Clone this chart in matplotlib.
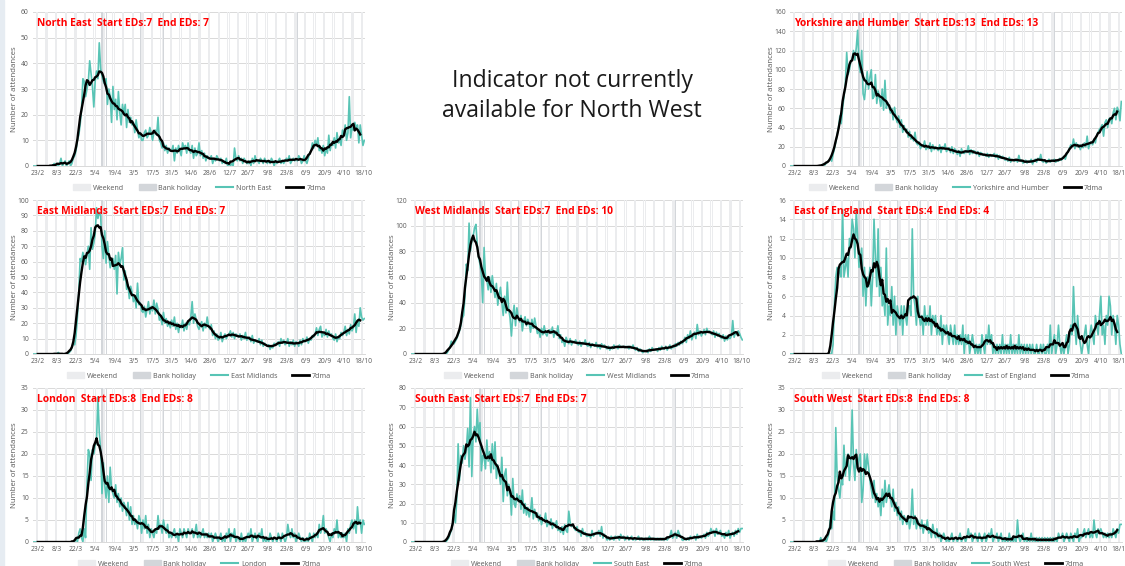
import numpy as np
import pandas as pd
import matplotlib
matplotlib.use('Agg')
import matplotlib.pyplot as plt
from matplotlib.patches import Patch, Rectangle
from matplotlib.lines import Line2D

plt.rcParams['font.family'] = ['Open Sans', 'DejaVu Sans']

# daily attendances, first day 20/2/2020 (3 days, then Sunday-based weeks)
start_date = '2020-02-20'
bank_holidays = ['2020-04-10', '2020-04-13', '2020-05-08', '2020-05-25', '2020-08-31']
tick_start = '2020-02-23'
tick_end = '2020-10-18'

north_east = [
    0, 0, 0,
    0, 0, 0, 0, 0, 0, 0,
    0, 0, 0, 0, 0, 1, 0,
    1, 0, 1, 3, 0, 1, 2,
    0, 1, 2, 0, 1, 3, 4,
    6, 10, 12, 16, 22, 34, 33,
    27, 30, 33, 41, 36, 31, 23,
    33, 37, 34, 48, 38, 35, 33,
    32, 34, 24, 30, 27, 17, 31,
    22, 26, 18, 29, 21, 16, 24,
    20, 24, 15, 22, 17, 19, 16,
    17, 13, 18, 14, 11, 13, 10,
    10, 13, 14, 11, 12, 15, 13,
    10, 13, 14, 12, 19, 10, 9,
    7, 9, 6, 8, 5, 7, 6,
    6, 8, 2, 7, 5, 8, 6,
    4, 9, 7, 8, 5, 9, 6,
    5, 8, 3, 7, 4, 5, 9,
    4, 6, 3, 5, 2, 4, 3,
    3, 4, 1, 3, 2, 4, 3,
    2, 3, 1, 2, 1, 3, 0,
    1, 0, 1, 0, 7, 3, 2,
    4, 2, 3, 1, 3, 2, 1,
    1, 2, 0, 3, 1, 4, 2,
    2, 1, 3, 2, 1, 3, 2,
    1, 2, 1, 3, 2, 0, 2,
    1, 2, 3, 1, 2, 1, 2,
    3, 2, 4, 1, 2, 3, 2,
    3, 2, 4, 3, 1, 2, 4,
    2, 1, 3, 5, 6, 9, 7,
    10, 8, 11, 6, 7, 5, 8,
    4, 7, 5, 12, 6, 9, 8,
    11, 7, 13, 9, 10, 8, 14,
    12, 16, 10, 13, 27, 11, 15,
    14, 17, 15, 16, 9, 16, 12,
    8, 10,
]

yorkshire = [
    0, 0, 0,
    0, 0, 0, 0, 0, 0, 0,
    0, 0, 0, 0, 0, 0, 0,
    0, 0, 0, 0, 0, 0, 1,
    2, 1, 3, 4, 6, 8, 5,
    12, 18, 25, 32, 40, 52, 44,
    60, 72, 85, 118, 95, 100, 108,
    112, 120, 110, 123, 141, 105, 97,
    120, 75, 69, 85, 98, 80, 92,
    100, 70, 72, 95, 65, 78, 70,
    62, 80, 58, 89, 60, 66, 62,
    55, 60, 48, 61, 50, 45, 52,
    40, 48, 35, 42, 36, 38, 30,
    36, 28, 30, 26, 35, 24, 22,
    25, 18, 22, 20, 26, 17, 20,
    18, 24, 15, 22, 17, 20, 19,
    16, 22, 14, 20, 18, 23, 15,
    17, 19, 14, 20, 13, 18, 16,
    12, 16, 10, 18, 14, 13, 15,
    14, 21, 12, 17, 13, 16, 15,
    12, 15, 10, 14, 13, 11, 12,
    10, 13, 9, 12, 10, 11, 13,
    9, 12, 7, 11, 8, 10, 9,
    6, 8, 5, 9, 4, 7, 6,
    5, 7, 4, 11, 5, 6, 3,
    4, 6, 3, 5, 4, 7, 2,
    5, 7, 4, 8, 6, 12, 5,
    4, 6, 3, 5, 7, 4, 6,
    5, 7, 4, 6, 5, 8, 6,
    8, 10, 7, 12, 15, 18, 22,
    20, 28, 18, 24, 20, 22, 17,
    22, 19, 24, 20, 31, 18, 23,
    25, 22, 28, 24, 32, 35, 38,
    40, 43, 31, 45, 48, 40, 49,
    50, 44, 55, 60, 48, 61, 58,
    47, 67,
]

east_midlands = [
    0, 0, 0,
    0, 0, 0, 0, 0, 0, 0,
    0, 0, 0, 0, 0, 0, 0,
    0, 1, 0, 0, 0, 0, 0,
    0, 0, 1, 2, 4, 7, 6,
    12, 24, 40, 62, 60, 66, 63,
    58, 65, 70, 55, 82, 68, 72,
    78, 95, 88, 92, 90, 70, 62,
    80, 59, 73, 64, 56, 60, 62,
    55, 64, 39, 66, 58, 62, 69,
    48, 54, 42, 45, 36, 44, 40,
    34, 38, 30, 46, 32, 33, 28,
    27, 31, 24, 29, 34, 26, 31,
    28, 35, 26, 33, 29, 22, 24,
    19, 27, 20, 23, 18, 21, 17,
    22, 18, 24, 16, 20, 14, 19,
    17, 22, 15, 20, 16, 21, 19,
    24, 34, 20, 26, 22, 18, 16,
    19, 21, 15, 20, 17, 24, 18,
    16, 19, 12, 15, 10, 13, 9,
    10, 14, 8, 11, 13, 10, 12,
    13, 15, 11, 14, 10, 13, 12,
    11, 13, 9, 12, 10, 14, 9,
    10, 11, 8, 12, 7, 9, 8,
    8, 10, 6, 9, 5, 7, 6,
    5, 6, 3, 5, 4, 7, 6,
    6, 8, 5, 10, 7, 9, 6,
    7, 10, 5, 8, 6, 9, 5,
    8, 7, 5, 9, 6, 10, 8,
    8, 11, 7, 10, 9, 12, 11,
    13, 17, 12, 16, 18, 11, 14,
    12, 16, 11, 15, 12, 13, 10,
    9, 13, 8, 11, 10, 14, 12,
    14, 18, 12, 16, 13, 19, 15,
    17, 26, 14, 22, 18, 30, 24,
    22, 23,
]

west_midlands = [
    0, 0, 0,
    0, 0, 0, 0, 0, 0, 0,
    0, 0, 0, 0, 0, 0, 0,
    0, 0, 0, 0, 0, 0, 0,
    0, 0, 1, 3, 5, 10, 8,
    8, 10, 12, 15, 18, 22, 28,
    30, 45, 70, 65, 102, 80, 88,
    92, 98, 101, 85, 75, 70, 62,
    40, 83, 60, 58, 50, 60, 48,
    61, 52, 44, 55, 38, 46, 52,
    40, 30, 45, 32, 56, 35, 28,
    14, 30, 38, 22, 36, 28, 25,
    30, 18, 26, 29, 22, 27, 24,
    17, 27, 20, 28, 22, 16, 19,
    13, 20, 15, 22, 16, 14, 18,
    19, 16, 21, 13, 18, 15, 22,
    12, 15, 9, 11, 6, 13, 10,
    8, 12, 7, 10, 9, 11, 8,
    7, 10, 6, 9, 8, 11, 7,
    6, 9, 5, 8, 7, 6, 9,
    5, 7, 4, 8, 6, 7, 5,
    4, 6, 3, 5, 4, 7, 5,
    6, 4, 7, 5, 6, 5, 6,
    5, 6, 4, 6, 5, 7, 4,
    3, 5, 2, 4, 3, 1, 2,
    2, 3, 1, 4, 2, 5, 3,
    3, 4, 2, 5, 3, 6, 4,
    4, 6, 3, 5, 7, 4, 6,
    5, 8, 6, 9, 7, 10, 8,
    10, 13, 9, 15, 12, 18, 11,
    14, 17, 12, 23, 15, 18, 14,
    16, 19, 15, 20, 17, 18, 16,
    15, 18, 13, 17, 14, 16, 13,
    12, 15, 10, 14, 11, 13, 12,
    14, 26, 13, 17, 15, 18, 16,
    13, 11,
]

east_of_england = [
    0, 0, 0,
    0, 0, 0, 0, 0, 0, 0,
    0, 0, 0, 0, 0, 0, 0,
    0, 0, 0, 0, 0, 0, 0,
    0, 0, 0, 0, 0, 0, 0,
    1, 5, 8, 9, 8, 9, 8,
    15, 8, 9, 10, 8, 12, 11,
    14, 13, 10, 15, 12, 9, 10,
    11, 6, 9, 5, 8, 7, 9,
    5, 8, 14, 10, 7, 13, 6,
    9, 5, 6, 4, 11, 3, 5,
    4, 7, 3, 6, 2, 5, 4,
    3, 5, 2, 5, 4, 3, 5,
    5, 4, 13, 6, 5, 3, 6,
    4, 3, 4, 2, 5, 3, 4,
    3, 5, 2, 4, 3, 4, 2,
    3, 2, 4, 1, 3, 2, 3,
    2, 1, 3, 2, 1, 3, 1,
    2, 1, 2, 1, 3, 0, 2,
    1, 2, 0, 1, 2, 1, 0,
    1, 0, 1, 0, 2, 1, 0,
    2, 1, 3, 1, 2, 0, 1,
    0, 1, 0, 1, 0, 2, 0,
    1, 0, 1, 0, 2, 0, 1,
    0, 1, 0, 2, 0, 1, 0,
    1, 0, 1, 0, 1, 0, 1,
    0, 0, 1, 0, 0, 1, 0,
    1, 0, 0, 1, 0, 3, 0,
    1, 2, 0, 1, 3, 1, 0,
    1, 0, 1, 2, 0, 1, 3,
    2, 7, 3, 1, 4, 2, 1,
    0, 1, 2, 3, 1, 0, 2,
    3, 2, 1, 4, 3, 2, 4,
    6, 2, 3, 1, 4, 3, 6,
    5, 2, 4, 3, 1, 4, 3,
    1, 0,
]

london = [
    0, 0, 0,
    0, 0, 0, 0, 0, 0, 0,
    0, 0, 0, 0, 0, 0, 0,
    0, 0, 0, 0, 0, 0, 0,
    0, 0, 0, 0, 0, 0, 0,
    1, 0, 2, 3, 1, 0, 3,
    1, 13, 21, 20, 14, 21, 20,
    22, 23, 33, 25, 21, 11, 18,
    13, 10, 15, 9, 17, 12, 11,
    10, 13, 9, 11, 8, 10, 7,
    9, 8, 6, 9, 5, 8, 4,
    6, 4, 5, 3, 6, 5, 2,
    5, 3, 6, 2, 4, 1, 3,
    2, 1, 3, 2, 6, 3, 4,
    2, 5, 3, 2, 4, 1, 2,
    1, 2, 3, 1, 2, 0, 3,
    2, 1, 3, 2, 1, 3, 2,
    2, 3, 1, 2, 4, 1, 2,
    1, 2, 3, 1, 2, 1, 2,
    1, 2, 0, 1, 2, 1, 0,
    1, 2, 0, 1, 0, 2, 1,
    3, 0, 2, 1, 3, 0, 1,
    1, 0, 2, 0, 1, 0, 1,
    2, 1, 3, 0, 1, 2, 1,
    0, 2, 1, 3, 0, 1, 0,
    1, 0, 2, 1, 0, 1, 1,
    0, 2, 1, 0, 2, 1, 0,
    1, 4, 2, 1, 3, 1, 2,
    0, 1, 2, 1, 0, 1, 0,
    0, 1, 0, 2, 1, 0, 2,
    1, 2, 1, 4, 2, 3, 6,
    2, 3, 2, 1, 0, 2, 1,
    3, 2, 5, 1, 2, 1, 2,
    1, 2, 0, 3, 2, 4, 5,
    3, 5, 2, 8, 4, 5, 2,
    5, 4,
]

south_east = [
    0, 0, 0,
    0, 0, 0, 0, 0, 0, 0,
    0, 0, 0, 0, 0, 0, 0,
    0, 0, 0, 0, 0, 0, 0,
    0, 0, 1, 2, 4, 6, 9,
    14, 10, 22, 51, 32, 45, 41,
    50, 43, 48, 59, 39, 75, 34,
    56, 60, 52, 69, 55, 62, 37,
    45, 44, 38, 53, 42, 47, 36,
    51, 38, 52, 33, 40, 36, 30,
    44, 21, 35, 38, 24, 30, 26,
    14, 33, 20, 18, 25, 21, 24,
    17, 27, 15, 20, 14, 18, 13,
    16, 23, 12, 17, 13, 15, 11,
    14, 9, 12, 11, 15, 8, 10,
    9, 12, 7, 10, 8, 11, 6,
    7, 5, 8, 4, 9, 6, 5,
    16, 10, 8, 9, 7, 6, 8,
    5, 6, 3, 7, 4, 5, 3,
    3, 4, 2, 6, 3, 4, 5,
    4, 6, 3, 8, 2, 4, 3,
    1, 2, 1, 3, 2, 1, 3,
    2, 3, 1, 4, 2, 3, 1,
    2, 3, 1, 2, 3, 1, 2,
    1, 2, 3, 1, 2, 1, 2,
    1, 2, 1, 3, 1, 2, 1,
    2, 1, 2, 1, 2, 1, 2,
    1, 2, 1, 2, 3, 6, 2,
    3, 5, 2, 6, 4, 3, 1,
    1, 2, 1, 2, 1, 3, 2,
    2, 3, 1, 4, 2, 3, 2,
    3, 4, 2, 5, 3, 4, 7,
    5, 6, 3, 7, 4, 5, 6,
    3, 4, 2, 5, 3, 6, 2,
    4, 5, 3, 6, 4, 7, 5,
    7, 7,
]

south_west = [
    0, 0, 0,
    0, 0, 0, 0, 0, 0, 0,
    0, 0, 0, 0, 0, 0, 0,
    0, 0, 0, 0, 0, 1, 0,
    0, 1, 0, 1, 2, 5, 3,
    7, 5, 26, 15, 12, 10, 14,
    13, 22, 15, 19, 20, 14, 18,
    30, 18, 14, 21, 17, 19, 20,
    9, 12, 20, 16, 20, 17, 14,
    12, 10, 14, 9, 11, 8, 10,
    6, 12, 8, 14, 9, 11, 13,
    10, 8, 12, 7, 9, 6, 8,
    5, 7, 4, 6, 5, 4, 6,
    3, 5, 12, 4, 6, 3, 5,
    4, 3, 5, 2, 4, 3, 5,
    2, 3, 1, 4, 2, 1, 3,
    1, 2, 0, 1, 2, 1, 0,
    1, 0, 1, 2, 0, 1, 1,
    0, 1, 2, 0, 1, 1, 0,
    1, 3, 1, 2, 0, 1, 2,
    1, 0, 2, 1, 0, 1, 2,
    0, 1, 2, 1, 3, 0, 1,
    1, 2, 0, 1, 2, 0, 1,
    0, 1, 0, 2, 0, 1, 0,
    1, 0, 5, 1, 0, 1, 2,
    0, 1, 0, 1, 0, 2, 0,
    1, 0, 1, 0, 1, 0, 1,
    0, 1, 0, 1, 0, 1, 0,
    1, 0, 1, 0, 2, 1, 1,
    2, 0, 1, 2, 1, 0, 2,
    1, 0, 2, 1, 3, 0, 1,
    1, 2, 3, 1, 2, 3, 1,
    2, 1, 5, 2, 1, 3, 2,
    3, 2, 1, 2, 1, 2, 1,
    2, 1, 3, 2, 1, 3, 2,
    4, 4,
]

region_names = ['North East', 'Yorkshire and Humber', 'East Midlands', 'West Midlands',
                'East of England', 'London', 'South East', 'South West']
region_values = [north_east, yorkshire, east_midlands, west_midlands,
                 east_of_england, london, south_east, south_west]
start_eds = [7, 13, 7, 7, 4, 8, 7, 8]
end_eds = [7, 13, 7, 10, 4, 8, 7, 8]
y_max = [60, 160, 100, 120, 16, 35, 80, 35]
y_step = [10, 20, 10, 20, 2, 5, 10, 5]
# grid position (row, col) of each panel
grid_pos = [(0, 0), (0, 2), (1, 0), (1, 1), (1, 2), (2, 0), (2, 1), (2, 2)]

TEAL = '#58C4B5'
WEEKEND_C = '#EBECEE'
BANKHOL_C = '#D3D6DA'
GREY_TXT = '#595959'

W, H = 1125, 566
col_left = [33, 411, 790]
row_bottom = [166, 354, 542]
ax_w, ax_h = 332, 154

fig = plt.figure(figsize = (W / 100, H / 100), dpi = 100)
fig.patch.set_facecolor('white')
fig.patches.append(Rectangle((0, 0), 4 / W, 1, transform = fig.transFigure,
                             color = '#E6ECF2', zorder = 0))

tick_dates = pd.date_range(tick_start, tick_end, freq = '14D')
tick_labels = [f'{d.day}/{d.month}' for d in tick_dates]
bh_dates = pd.to_datetime(bank_holidays)

for i, name in enumerate(region_names):
    row, col = grid_pos[i]
    rect = [col_left[col] / W, (H - row_bottom[row]) / H, ax_w / W, ax_h / H]
    ax = fig.add_axes(rect)

    values = region_values[i]
    ymax = y_max[i]
    dates = pd.date_range(start_date, periods = len(values), freq = 'D')
    series = pd.Series(values, index = dates, dtype = float)
    ma = series.rolling(7, center = True).mean()

    weekends = dates[dates.dayofweek >= 5]
    ax.bar(weekends, [ymax] * len(weekends), width = 0.8, color = WEEKEND_C, zorder = 1)
    ax.bar(bh_dates, [ymax] * len(bh_dates), width = 0.8, color = BANKHOL_C, zorder = 1)
    ax.plot(dates, series.values, color = TEAL, lw = 1.2, zorder = 3)
    ax.plot(dates, ma.values, color = 'black', lw = 1.7, zorder = 4)

    ax.set_xlim(dates[0] - pd.Timedelta(hours = 12), dates[-1] + pd.Timedelta(hours = 12))
    ax.set_ylim(0, ymax)
    ax.set_yticks(np.arange(0, ymax + y_step[i] / 2, y_step[i]))
    ax.set_xticks(tick_dates)
    ax.set_xticklabels(tick_labels)
    ax.yaxis.grid(True, color = '#D9D9D9', lw = 0.7)
    ax.set_axisbelow(True)
    for side in ['top', 'left', 'right']:
        ax.spines[side].set_visible(False)
    ax.spines['bottom'].set_color('#D9D9D9')
    ax.spines['bottom'].set_linewidth(0.7)
    ax.tick_params(length = 0, labelsize = 4.9, colors = GREY_TXT, pad = 3)
    ax.set_ylabel('Number of attendances', fontsize = 5.6, color = GREY_TXT)
    ax.yaxis.set_label_coords(-15 / ax_w, 0.5)

    title = f'{name}  Start EDs:{start_eds[i]}  End EDs: {end_eds[i]}'
    ax.text(4 / ax_w, 1 - 11 / ax_h, title, transform = ax.transAxes, color = '#FF0000',
            fontweight = 'bold', fontsize = 7.4, ha = 'left', va = 'center', zorder = 5)

    handles = [Patch(color = WEEKEND_C), Patch(color = BANKHOL_C),
               Line2D([], [], color = TEAL, lw = 1.5), Line2D([], [], color = 'black', lw = 2)]
    labels = ['Weekend', 'Bank holiday', name, '7dma']
    ax.legend(handles, labels, loc = 'center', bbox_to_anchor = (0.5, -22 / ax_h), ncol = 4,
              frameon = False, fontsize = 5.1, handlelength = 2.4, handleheight = 0.8,
              handletextpad = 0.4, columnspacing = 2.1, labelcolor = GREY_TXT)

fig.text(572 / W, 1 - 96 / H, 'Indicator not currently\navailable for North West',
         ha = 'center', va = 'center', fontsize = 16.6, color = '#1A1A1A', linespacing = 1.3)

fig.savefig('out.png', dpi = 100)
